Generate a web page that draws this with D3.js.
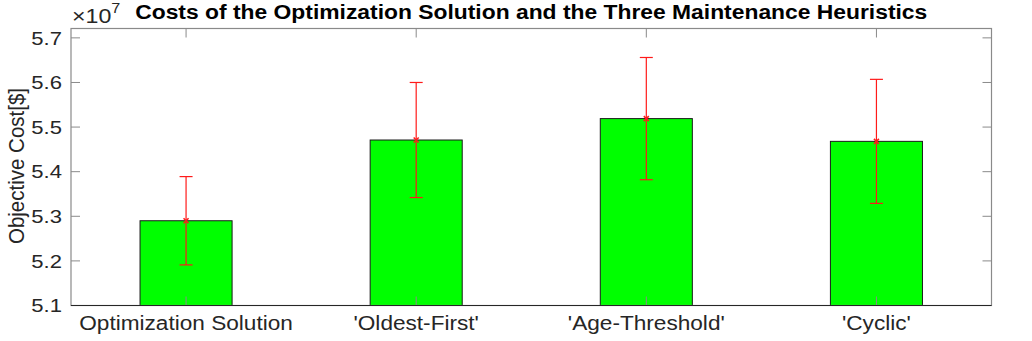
<!DOCTYPE html>
<html>
<head>
<meta charset="utf-8">
<script src="https://cdn.jsdelivr.net/npm/d3@7"></script>
<style>
  body { margin: 0; background: #fff; }
  text { font-family: "Liberation Sans", Arial, Helvetica, sans-serif; }
</style>
</head>
<body>
<div id="chart"></div>
<script>
// values in units of 1e7 $
const categories = ["Optimization Solution", "'Oldest-First'", "'Age-Threshold'", "'Cyclic'"];
const costs = [5.290, 5.471, 5.519, 5.468];
const errors = [0.099, 0.129, 0.137, 0.139];
const yTicks = [5.1, 5.2, 5.3, 5.4, 5.5, 5.6, 5.7];

const W = 1032, H = 341;
const margin = { top: 28.5, right: 40.5, bottom: 35.5, left: 71 };
const width = W - margin.left - margin.right;
const height = H - margin.top - margin.bottom;
const sx = 1.16; // horizontal stretch of the glyphs in the reference

const svg = d3.select('#chart')
    .append('svg')
    .attr('width', W)
    .attr('height', H);

const g = svg.append('g')
    .attr('transform', `translate(${margin.left},${margin.top})`);

// scales
const x = d3.scaleBand()
    .domain(categories)
    .range([0, width])
    .paddingInner(0.6)
    .paddingOuter(0.3);

const y = d3.scaleLinear()
    .domain([5.1, 5.721])
    .range([height, 0]);

// bars
g.selectAll('rect.bar')
    .data(categories)
    .join('rect')
    .attr('class', 'bar')
    .attr('x', d => x(d))
    .attr('y', (d, i) => y(costs[i]))
    .attr('width', x.bandwidth())
    .attr('height', (d, i) => height - y(costs[i]))
    .attr('fill', '#00ff00')
    .attr('stroke', '#1a1a1a')
    .attr('stroke-width', 1);

// error bars
const cx = d => x(d) + x.bandwidth() / 2;
const capW = 6.5;
const eb = g.append('g').attr('stroke', '#ff1a1a').attr('stroke-width', 1.2);
categories.forEach((c, i) => {
    const lo = y(costs[i] - errors[i]), hi = y(costs[i] + errors[i]);
    eb.append('line').attr('x1', cx(c)).attr('x2', cx(c)).attr('y1', lo).attr('y2', hi);
    eb.append('line').attr('x1', cx(c) - capW).attr('x2', cx(c) + capW).attr('y1', lo).attr('y2', lo);
    eb.append('line').attr('x1', cx(c) - capW).attr('x2', cx(c) + capW).attr('y1', hi).attr('y2', hi);
    const m = 2.5, yc = y(costs[i]);
    eb.append('path')
        .attr('d', `M${cx(c) - m},${yc - m}L${cx(c) + m},${yc + m}M${cx(c) - m},${yc + m}L${cx(c) + m},${yc - m}`)
        .attr('stroke-width', 1.5);
});

// axes box and inside ticks
const axisColor = '#8a8a8a';
const tickLen = 9;
const axes = g.append('g').attr('stroke', axisColor).attr('stroke-width', 1);
yTicks.forEach(t => {
    axes.append('line').attr('x1', 0).attr('x2', tickLen).attr('y1', y(t)).attr('y2', y(t));
    axes.append('line').attr('x1', width).attr('x2', width - tickLen).attr('y1', y(t)).attr('y2', y(t));
});
categories.forEach(c => {
    axes.append('line').attr('x1', cx(c)).attr('x2', cx(c)).attr('y1', 0).attr('y2', tickLen);
    axes.append('line').attr('x1', cx(c)).attr('x2', cx(c)).attr('y1', height).attr('y2', height - tickLen);
});
g.append('rect')
    .attr('width', width).attr('height', height)
    .attr('fill', 'none').attr('stroke', axisColor).attr('stroke-width', 1.2);
g.append('line')
    .attr('x1', 0).attr('x2', width).attr('y1', height).attr('y2', height)
    .attr('stroke', '#262626').attr('stroke-width', 1.2);

// tick labels
g.selectAll('text.ytick')
    .data(yTicks)
    .join('text')
    .attr('class', 'ytick')
    .attr('transform', d => `translate(-9,${y(d) + 6.8}) scale(${sx},1)`)
    .attr('text-anchor', 'end')
    .attr('fill', '#262626')
    .style('font-size', '19px')
    .text(d => d.toFixed(1));

g.selectAll('text.xtick')
    .data(categories)
    .join('text')
    .attr('class', 'xtick')
    .attr('transform', d => `translate(${cx(d)},${height + 24.5}) scale(${sx},1)`)
    .attr('text-anchor', 'middle')
    .attr('fill', '#262626')
    .style('font-size', '19.5px')
    .text(d => d);

// y axis label
svg.append('text')
    .attr('transform', `translate(23.5,${margin.top + height / 2 - 1}) rotate(-90) scale(1,1.08)`)
    .attr('text-anchor', 'middle')
    .attr('fill', '#262626')
    .style('font-size', '20.5px')
    .text('Objective Cost[$]');

// exponent
const ex = svg.append('text')
    .attr('transform', `translate(72,23) scale(${sx},1)`)
    .attr('fill', '#262626')
    .style('font-size', '20px');
ex.append('tspan').text('\u00d710');
ex.append('tspan').attr('dy', -10).style('font-size', '14px').text('7');

// title
svg.append('text')
    .attr('transform', `translate(${margin.left + width / 2},18.5) scale(${sx},1)`)
    .attr('text-anchor', 'middle')
    .style('font-size', '19.7px')
    .style('font-weight', 'bold')
    .text('Costs of the Optimization Solution and the Three Maintenance Heuristics');
</script>
</body>
</html>
